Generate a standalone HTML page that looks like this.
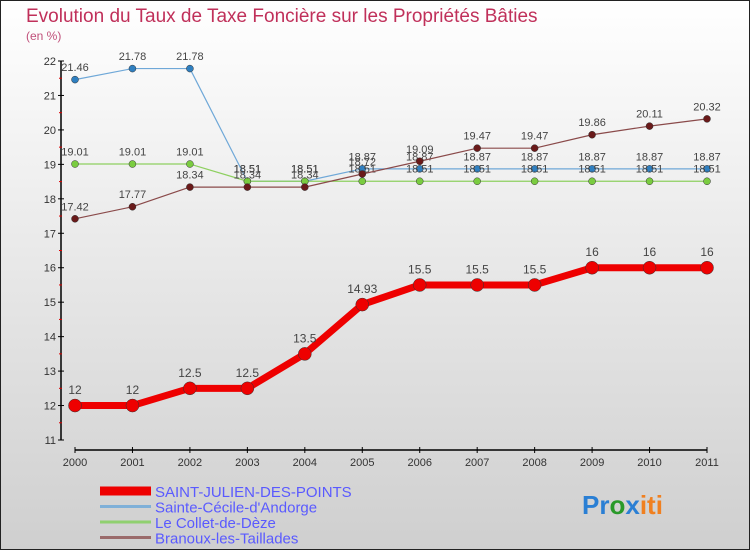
<!DOCTYPE html>
<html><head><meta charset="utf-8"><style>
body{margin:0}
#c{width:750px;height:550px;position:relative;overflow:hidden;font-family:"Liberation Sans",sans-serif}
</style></head><body>
<div id="c">
<svg id="s" width="750" height="550" xmlns="http://www.w3.org/2000/svg">
<defs><linearGradient id="bg" x1="0" y1="0" x2="0" y2="1"><stop offset="0" stop-color="#ffffff"/><stop offset="1" stop-color="#cfcfcf"/></linearGradient></defs>
<rect x="0.5" y="0.5" width="749" height="549" fill="url(#bg)" stroke="#222"/>
<text x="26" y="22" font-size="19" fill="#c0305a">Evolution du Taux de Taxe Foncière sur les Propriétés Bâties</text>
<text x="26" y="40" font-size="12" fill="#c0507a">(en %)</text>
<g id="axes"></g><g id="series"></g><g id="legend"></g>
<text x="582" y="514" font-size="26" font-weight="bold"><tspan fill="#2a7fd4">Pr</tspan><tspan fill="#2a9a2a">o</tspan><tspan fill="#2a7fd4">x</tspan><tspan fill="#f08020">iti</tspan></text>
</svg>
</div>
<script>
const years=[2000,2001,2002,2003,2004,2005,2006,2007,2008,2009,2010,2011];
const yTicks=[11,12,13,14,15,16,17,18,19,20,21,22];
const stJulien=[12,12,12.5,12.5,13.5,14.93,15.5,15.5,15.5,16,16,16];
const steCecile=[21.46,21.78,21.78,18.51,18.51,18.87,18.87,18.87,18.87,18.87,18.87,18.87];
const collet=[19.01,19.01,19.01,18.51,18.51,18.51,18.51,18.51,18.51,18.51,18.51,18.51];
const branoux=[17.42,17.77,18.34,18.34,18.34,18.72,19.09,19.47,19.47,19.86,20.11,20.32];
const seriesNames=["SAINT-JULIEN-DES-POINTS","Sainte-Cécile-d'Andorge","Le Collet-de-Dèze","Branoux-les-Taillades"];
const NS="http://www.w3.org/2000/svg";
function X(i){return 75+i*(707-75)/11;}
function Y(v){return 440-(v-11)*(440-61)/11;}
function mk(tag,attrs,parent){const e=document.createElementNS(NS,tag);for(const k in attrs)e.setAttribute(k,attrs[k]);parent.appendChild(e);return e;}
const ax=document.getElementById('axes');
let a=mk('line',{x1:61,y1:61,x2:61,y2:440,stroke:'#000','stroke-width':1.5},ax);


a=mk('line',{x1:75,y1:450,x2:707,y2:450,stroke:'#000','stroke-width':1.5},ax);


yTicks.forEach((t,i)=>{
 mk('line',{x1:58,y1:Y(t),x2:64,y2:Y(t),stroke:'#000'},ax);
 if(i<yTicks.length-1)mk('line',{x1:59,y1:Y(t+0.5),x2:62,y2:Y(t+0.5),stroke:'#d00'},ax);
 const tx=mk('text',{x:56,y:Y(t)+4,'font-size':11,fill:'#333','text-anchor':'end'},ax);tx.textContent=t;
 
 
});
years.forEach((y,i)=>{
 mk('line',{x1:X(i),y1:447,x2:X(i),y2:453,stroke:'#000'},ax);
 const tx=mk('text',{x:X(i),y:466,'font-size':11,fill:'#333','text-anchor':'middle'},ax);tx.textContent=y;
 
 
});
const sg=document.getElementById('series');
function draw(vals,color,dot,w,r,name,fs){
 const g=mk('g',{},sg);
 
 
 mk('polyline',{points:vals.map((v,i)=>X(i)+','+Y(v)).join(' '),fill:'none',stroke:color,'stroke-width':w,'stroke-linejoin':'round'},g);
 vals.forEach((v,i)=>{
  const c=mk('circle',{cx:X(i),cy:Y(v),r:r,fill:dot,stroke:'#333','stroke-width':0.5},g);
  
  
  const t=mk('text',{x:X(i),y:Y(v)-r-5,'font-size':fs,fill:'#444','text-anchor':'middle'},g);t.textContent=v;
 });
}
draw(steCecile,'#6fa8d8','#2f7fc0',1.2,3.5,'series-sainte-cecile',11);
draw(collet,'#8ed060','#7acc40',1.2,3.5,'series-collet',11);
draw(branoux,'#8a4a4a','#6a1a1a',1.2,3.5,'series-branoux',11);
draw(stJulien,'#ee0000','#ee0000',7,6.5,'series-saint-julien',12);
const lg=document.getElementById('legend');
const lc=['#ee0000','#7fb0d8','#90d070','#9a6a6a'],lw=[9,3,3,3];
seriesNames.forEach((n,i)=>{
 const y=491+i*15.5;
 mk('line',{x1:100,y1:y,x2:151,y2:y,stroke:lc[i],'stroke-width':lw[i]},lg);
 const t=mk('text',{x:155,y:y+6,'font-size':15,fill:'#5a5aff'},lg);t.textContent=n;
 
 
});
</script>
</body></html>
